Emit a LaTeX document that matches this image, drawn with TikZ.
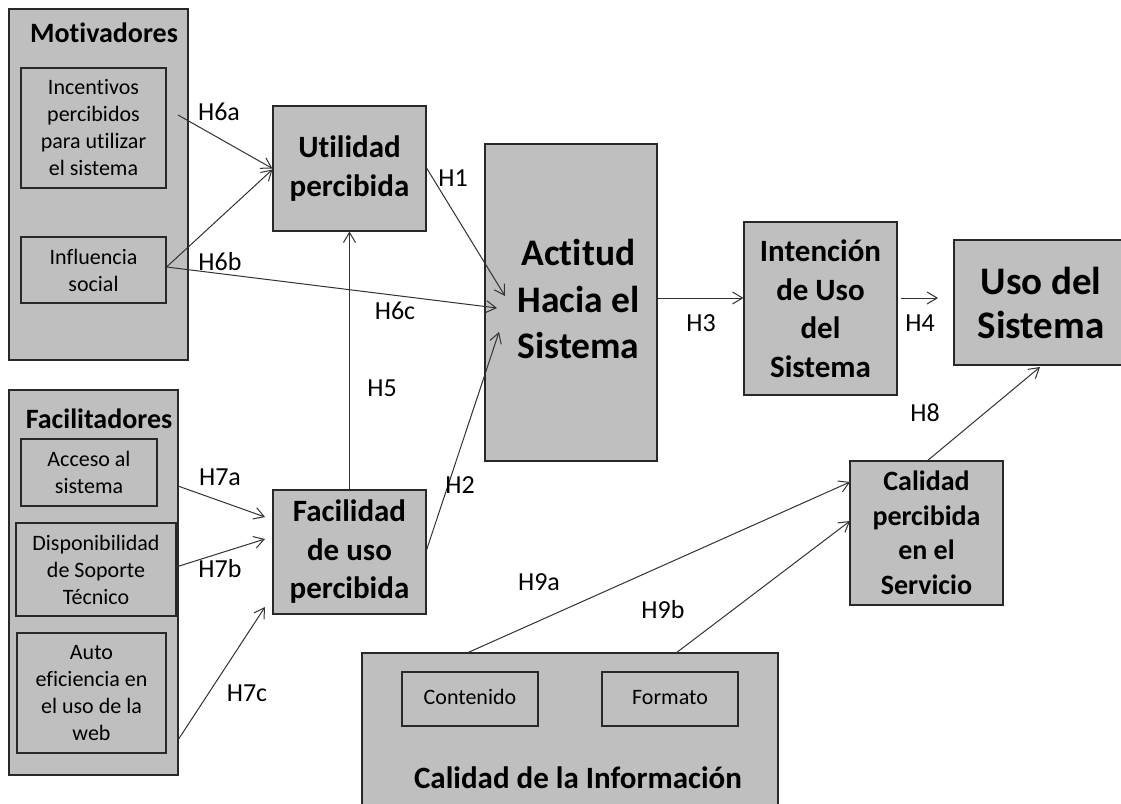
\documentclass[tikz,border=0pt]{standalone}
\usepackage{fontspec}
\setmainfont{Carlito}[Ligatures=NoCommon]
\usetikzlibrary{arrows.meta}
\definecolor{boxgray}{RGB}{191,191,191}
\definecolor{edgegray}{RGB}{40,40,40}
\definecolor{linegray}{RGB}{50,50,50}
\newcommand{\fsz}[2]{\fontsize{#1}{#2}\selectfont}
\begin{document}
\begin{tikzpicture}[x=1pt,y=-1pt,
  box/.style={draw=edgegray, fill=boxgray, line width=1.1pt, inner sep=0pt, align=center},
  smallbox/.style={box, font=\fsz{22}{27}},
  midbox/.style={box, font=\bfseries\fsz{31}{38.5}},
  title/.style={inner sep=0pt, align=center, font=\bfseries\fsz{28}{34}},
  hlbl/.style={inner sep=0pt, font=\fsz{26}{30}},
  conn/.style={draw=linegray, line width=1pt, -{Straight Barb[length=10pt,width=12pt,line width=1pt]}}
  ]
\useasboundingbox (0,0) rectangle (1121,803);
\fill[white] (0,0) rectangle (1121,803);

% group: Motivadores
\node[box, minimum width=179pt, minimum height=351pt] (mot) at (98.5,184.5) {};
\node[title] (motT) at (104,33) {Motivadores};
\node[smallbox, minimum width=145pt, minimum height=120pt] (inc) at (93.5,128) {Incentivos\\percibidos\\para utilizar\\el sistema};
\node[smallbox, minimum width=145pt, minimum height=66pt] (inf) at (93.5,270) {Influencia\\social};

% group: Facilitadores
\node[box, minimum width=169pt, minimum height=385pt] (fac) at (93.5,582.5) {};
\node[title] (facT) at (99,419) {Facilitadores};
\node[smallbox, minimum width=136pt, minimum height=67pt] (acc) at (89,472.5) {Acceso al\\sistema};
\node[smallbox, minimum width=160pt, minimum height=93pt] (dis) at (96,569.5) {Disponibilidad\\de Soporte\\Técnico};
\node[smallbox, minimum width=149pt, minimum height=120pt] (aut) at (91.5,693) {Auto\\eficiencia en\\el uso de la\\web};

% main constructs
\node[midbox, minimum width=153pt, minimum height=125pt] (uti) at (349.5,168.5) {Utilidad\\percibida};
\node[midbox, minimum width=153pt, minimum height=124pt] (fpu) at (349.5,552) {Facilidad\\de uso\\percibida};
\node[box, minimum width=172pt, minimum height=317pt] (act) at (571,302.5) {};
\node[inner sep=0pt, align=center, font=\bfseries\fsz{37.5}{46.5}] (actT) at (578.5,299) {Actitud\\Hacia el\\Sistema};
\node[midbox, minimum width=153pt, minimum height=173pt] (int) at (820.5,308.5) {Intención\\de Uso\\del\\Sistema};
\node[box, font=\bfseries\fsz{39}{44}, minimum width=174pt, minimum height=125pt] (uso) at (1041,302.5) {Uso del\\Sistema};
\node[box, font=\bfseries\fsz{28}{34.5}, minimum width=153pt, minimum height=144pt] (cps) at (926.5,533) {Calidad\\percibida\\en el\\Servicio};

% group: Calidad de la Informacion
\node[box, minimum width=416pt, minimum height=177pt] (cdi) at (570,741.5) {};
\node[smallbox, minimum width=136pt, minimum height=54pt] (con) at (470,699) {\strut Contenido};
\node[smallbox, minimum width=136pt, minimum height=54pt] (frm) at (670,699) {\strut Formato};
\node[inner sep=0pt, font=\bfseries\fsz{31}{36}] (cdiT) at (578,778) {Calidad de la Información};

% connector end points
\coordinate (s6a) at (178,115);
\coordinate (e6c) at (497,308);
\coordinate (e1) at (505,296);
\coordinate (e2) at (499,332);
\coordinate (s3) at ([yshift=4.5pt]act.east);
\coordinate (e4) at (938,298);
\coordinate (e8) at (1040,367);
\coordinate (s7a) at (178,486);
\coordinate (e7a) at (265,517);
\coordinate (s7b) at (176,567);
\coordinate (e7b) at (265,539);
\coordinate (s7c) at (178,740);
\coordinate (e7c) at (265,607);
\coordinate (s9a) at (467,653);
\coordinate (e9a) at (850,482);
\coordinate (s9b) at (676,653);
\coordinate (e9b) at (850,521);
\coordinate (s8) at (927,461);

% connectors
\draw[conn] (s6a) -- (uti.west);
\draw[conn] ([yshift=3pt]inf.east) -- ([yshift=-1pt]uti.west);
\draw[conn] ([yshift=3pt]inf.east) -- (e6c);
\draw[conn] ([yshift=0.5pt]uti.east) -- (e1);
\draw[conn] ([yshift=2pt]fpu.east) -- (e2);
\draw[conn] (fpu.north) -- (uti.south);
\draw[conn] (s3) -- (s3 -| int.west);
\draw[conn] ([xshift=3pt]s3 -| int.east) -- (e4);
\draw[conn] (s8) -- (e8);
\draw[conn] (s7a) -- (e7a);
\draw[conn] (s7b) -- (e7b);
\draw[conn] (s7c) -- (e7c);
\draw[conn] (s9a) -- (e9a);
\draw[conn] (s9b) -- (e9b);

% labels
\node[hlbl] (l6a) at (219,112) {H6a};
\node[hlbl] (l6b) at (220,262) {H6b};
\node[hlbl] (l6c) at (395,311) {H6c};
\node[hlbl] (l1) at (453,178) {H1};
\node[hlbl] (l5) at (382,388) {H5};
\node[hlbl] (l2) at (460,485) {H2};
\node[hlbl] (l3) at (701,323) {H3};
\node[hlbl] (l4) at (920,323) {H4};
\node[hlbl] (l8) at (925,413) {H8};
\node[hlbl] (l7a) at (220,477) {H7a};
\node[hlbl] (l7b) at (220,569) {H7b};
\node[hlbl] (l7c) at (247,693) {H7c};
\node[hlbl] (l9a) at (539,582) {H9a};
\node[hlbl] (l9b) at (663,610) {H9b};
\end{tikzpicture}
\end{document}
